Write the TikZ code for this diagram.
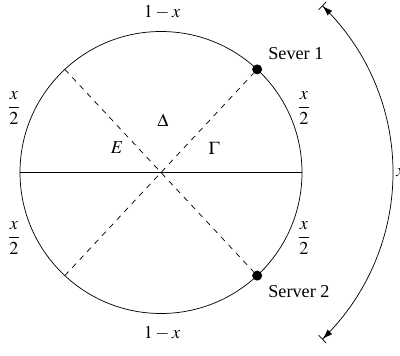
\documentclass[tikz,border=0pt]{standalone}
\usepackage{amsmath}
\usepackage{mathptmx}
\usepackage{fontspec}
\setmainfont{Liberation Serif}
\usetikzlibrary{arrows.meta,positioning,calc}

\begin{document}
\begin{tikzpicture}[x=0.55pt, y=0.55pt,
    dot/.style={circle, fill=black, inner sep=0pt, minimum size=5.5pt},
    lbl/.style={inner sep=0pt, font=\normalsize}]
    \useasboundingbox (-161,-183.5) rectangle (239,172.5);

    % Ring of servers
    \coordinate (o) at (0,0);
    \coordinate (w) at (180:141);
    \coordinate (e) at (0:141);
    \coordinate (nw) at (133:141);
    \coordinate (sw) at (227:141);
    \draw (o) circle (141);
    \draw (w) -- (e);

    % Server positions
    \node[dot] (s1) at (47:141) {};
    \node[dot] (s2) at (-47:141) {};
    \draw[dashed] (nw) -- (s2);
    \draw[dashed] (sw) -- (s1);
    \node[lbl, anchor=south west] (t1) at (107,112) {Sever 1};
    \node[lbl, anchor=north west] (t2) at (107,-113) {Server 2};

    % Arc lengths
    \node[lbl] (top) at (1,160.5) {$1-x$};
    \node[lbl] (bot) at (1,-160.5) {$1-x$};
    \node[lbl] (l1) at (-147,64.5) {$\dfrac{x}{2}$};
    \node[lbl] (l2) at (-147,-65.5) {$\dfrac{x}{2}$};
    \node[lbl] (r1) at (143,64.5) {$\dfrac{x}{2}$};
    \node[lbl] (r2) at (143,-65.5) {$\dfrac{x}{2}$};

    % Regions
    \node[lbl] (delta) at (2,52.5) {$\Delta$};
    \node[lbl] (eps) at (-44,24.5) {$E$};
    \node[lbl] (gam) at (53,24.5) {$\Gamma$};

    % Span of the two servers
    \draw[{Bar[width=6pt]Latex[length=5.5pt,width=3.6pt]}-{Latex[length=5.5pt,width=3.6pt]Bar[width=6pt]}]
        (46:232) arc (46:-46:232);
    \node[lbl, anchor=west] (span) at (235,0) {$x$};
\end{tikzpicture}
\end{document}
